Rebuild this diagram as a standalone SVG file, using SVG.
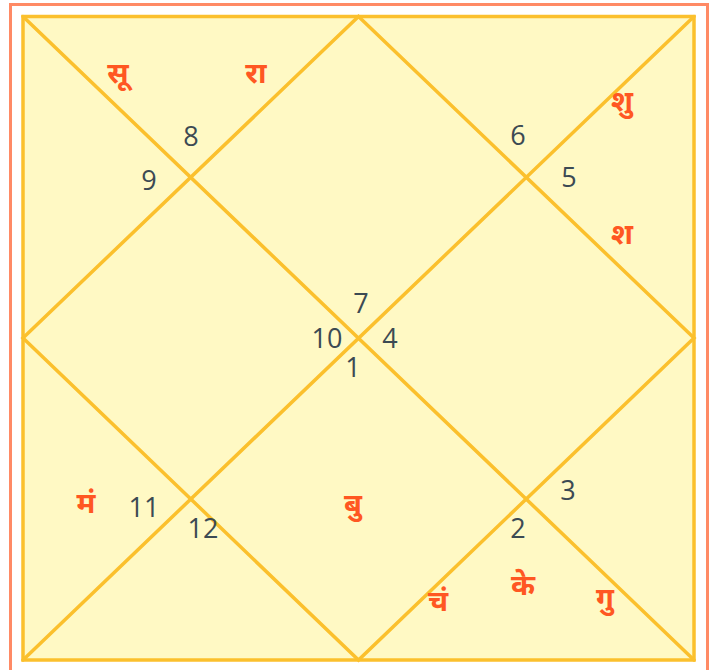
<svg xmlns="http://www.w3.org/2000/svg" width="728" height="670" viewBox="0 0 728 670">
<style>
.frame{fill:none;stroke:#FF8A65;stroke-width:3}
.board{fill:#FFF9C4;stroke:#FBC02D;stroke-width:3.5}
.ln{stroke:#FBC02D;stroke-width:3.5;fill:none;stroke-linecap:round}
.num{font-family:"Open Sans","Noto Sans",sans-serif;font-size:27px;fill:#3C4A53;text-anchor:middle}
.pl{font-family:"Noto Sans","Noto Sans Devanagari",sans-serif;font-size:29px;font-weight:bold;fill:#FF5722;text-anchor:middle}
</style>
<rect class="frame" x="10.5" y="4.5" width="697" height="680"/>
<g id="board">
<rect class="board" x="23" y="16.5" width="671" height="643.5"/>
</g>
<g id="connectors">
<line class="ln" x1="23" y1="16.5" x2="694" y2="660"/>
<line class="ln" x1="694" y1="16.5" x2="23" y2="660"/>
<polygon class="ln" points="358.5,16.5 694,338 358.5,660 23,338"/>
</g>
<g id="house1"><text class="num" x="353" y="377">1</text></g>
<g id="house2"><text class="num" x="518" y="538">2</text></g>
<g id="house3"><text class="num" x="568" y="500">3</text></g>
<g id="house4"><text class="num" x="390" y="348">4</text></g>
<g id="house5"><text class="num" x="569" y="187">5</text></g>
<g id="house6"><text class="num" x="518" y="145">6</text></g>
<g id="house7"><text class="num" x="361" y="313">7</text></g>
<g id="house8"><text class="num" x="191" y="146">8</text></g>
<g id="house9"><text class="num" x="149" y="190">9</text></g>
<g id="house10"><text class="num" x="327" y="348">10</text></g>
<g id="house11"><text class="num" x="144" y="517">11</text></g>
<g id="house12"><text class="num" x="203" y="538">12</text></g>
<g id="planets">
<text class="pl" x="118" y="83">सू</text>
<text class="pl" x="256" y="83">रा</text>
<text class="pl" x="622" y="111">शु</text>
<text class="pl" x="622" y="244">श</text>
<text class="pl" x="86" y="513">मं</text>
<text class="pl" x="353" y="514">बु</text>
<text class="pl" x="438" y="611">चं</text>
<text class="pl" x="523" y="595">के</text>
<text class="pl" x="605" y="608">गु</text>
</g>
</svg>
